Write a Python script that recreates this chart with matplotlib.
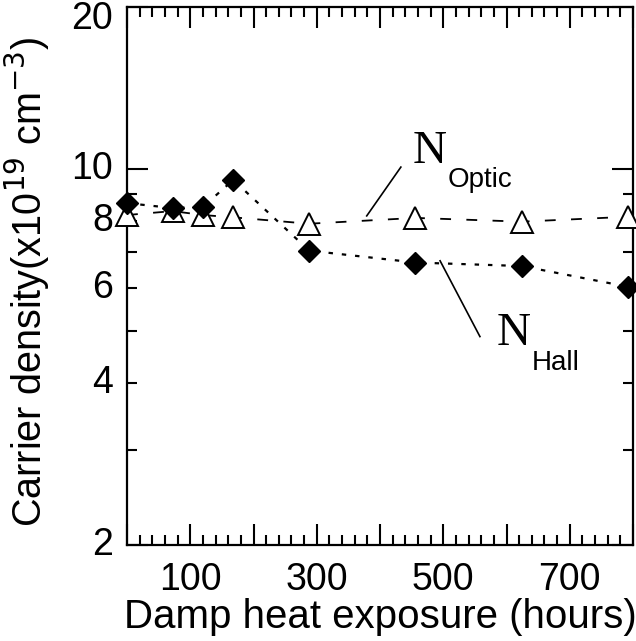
import matplotlib
matplotlib.use("Agg")
import matplotlib.pyplot as plt
import matplotlib.transforms as mtransforms
from matplotlib.ticker import FixedLocator, NullFormatter, FixedFormatter

plt.rcParams['font.family'] = ['Liberation Sans', 'DejaVu Sans']

hours = [0, 72, 120, 168, 288, 456, 624, 792]
n_hall = [8.64, 8.46, 8.5, 9.54, 7.05, 6.70, 6.60, 6.04]
n_optic = [8.21, 8.35, 8.21, 8.13, 7.91, 8.11, 7.98, 8.15]

x_major = [0, 100, 200, 300, 400, 500, 600, 700, 800]
x_labels = ['', '100', '', '300', '', '500', '', '700', '']
y_labels_vals = [2, 4, 6, 8, 10, 20]
y_minor = [3, 4, 5, 6, 7, 8, 9]

fig = plt.figure(figsize=(6.36, 6.41), dpi=100)
ax = fig.add_axes([127/636, 1-545/641, (633-127)/636, (545-7)/641])

ax.set_yscale('log')
ax.set_xlim(0, 800)
ax.set_ylim(2, 20)

ax.plot(hours, n_optic, linestyle=(0, (6, 8.5)), color='black', lw=1.3,
        marker='^', ms=15.5, mfc='white', mec='black', mew=1.4,
        clip_on=False, zorder=3)
ax.plot(hours, n_hall, linestyle=(0, (2, 4)), color='black', lw=1.6,
        marker='D', ms=11, mfc='black', mec='black',
        clip_on=False, zorder=4)

# leader lines
ax.plot([379, 433], [8.18, 10.08], color='black', lw=1.2, zorder=2)
ax.plot([495, 558], [6.75, 4.88], color='black', lw=1.2, zorder=2)

ax.text(452, 10.26, 'N', fontsize=34, family=['Liberation Serif'], ha='left', va='baseline')
ax.text(507, 9.26, 'Optic', fontsize=20, ha='left', va='baseline')
ax.text(585, 4.71, 'N', fontsize=34, family=['Liberation Serif'], ha='left', va='baseline')
ax.text(640, 4.23, 'Hall', fontsize=20, ha='left', va='baseline')

# x ticks
ax.xaxis.set_major_locator(FixedLocator(x_major))
ax.xaxis.set_major_formatter(FixedFormatter(x_labels))
ax.xaxis.set_minor_locator(FixedLocator([v for v in range(0, 801, 20) if v % 100 != 0]))

# y ticks
ax.yaxis.set_major_locator(FixedLocator([2, 10, 20]))
ax.yaxis.set_major_formatter(NullFormatter())
ax.yaxis.set_minor_locator(FixedLocator(y_minor))
ax.yaxis.set_minor_formatter(NullFormatter())
ytrans = ax.get_yaxis_transform()
for v in y_labels_vals:
    tr = ytrans
    if v == 20:
        tr = mtransforms.offset_copy(ytrans, fig=fig, x=0, y=-12, units='dots')
    ax.text(-0.028, v, str(v), transform=tr, ha='right', va='center', fontsize=27)

ax.tick_params(which='both', direction='in', top=True, right=True, width=1.5)
ax.tick_params(which='major', length=15)
ax.tick_params(which='minor', length=7.5)
ax.tick_params(axis='x', which='major', labelsize=27, pad=12)

for s in ax.spines.values():
    s.set_linewidth(1.6)

ax.set_xlabel('Damp heat exposure (hours)', fontsize=29, labelpad=0)
ax.set_ylabel(r'Carrier density(x10$^{19}$ cm$^{-3}$)', fontsize=28.5)
ax.yaxis.set_label_coords(-0.148, 0.49)

fig.savefig('out.png', dpi=100)
